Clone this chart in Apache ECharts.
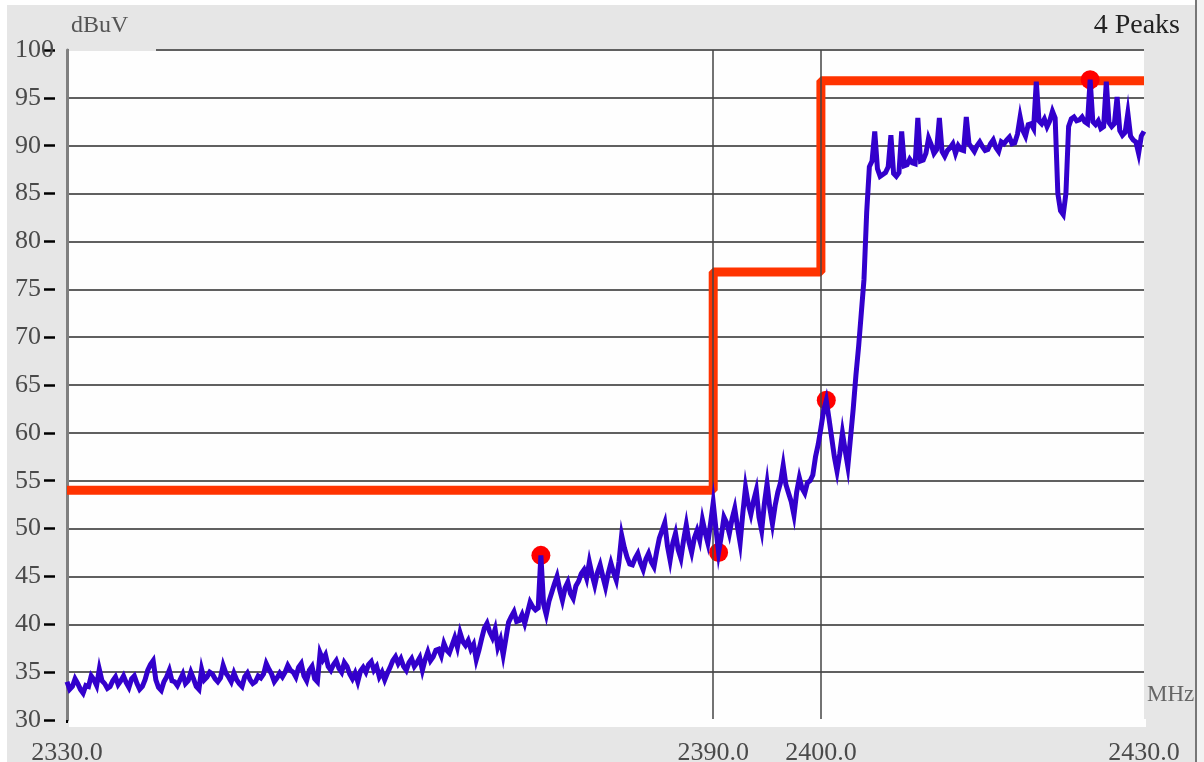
<!DOCTYPE html>
<html>
<head>
<meta charset="utf-8">
<script src="https://cdn.jsdelivr.net/npm/echarts@6/dist/echarts.min.js"></script>
<style>
html,body{margin:0;padding:0;background:#fff;}
#chart{width:1204px;height:762px;}
</style>
</head>
<body>
<div id="chart"></div>
<script>
// ---- data ----
const freqStart = 2330;      // MHz, first sample of the trace
const freqStep = 0.25;       // MHz between trace samples
const traceLevels = [
  34, 33.2, 33.5, 34.3, 33.8, 33.2, 32.8, 33.6, 33.5, 34.6,
  34.2, 33.6, 35.3, 34.1, 33.8, 33.3, 33.5, 34.1, 34.5, 33.7,
  34.1, 34.6, 33.9, 33.4, 34.3, 34.6, 33.8, 33.2, 33.5, 34.2,
  35.2, 35.8, 36.2, 34.2, 33.4, 33.1, 34, 34.5, 35.2, 34.1,
  34, 33.6, 34.2, 34.8, 33.8, 34.1, 35, 34.3, 33.5, 33.2,
  35.3, 34.2, 34.5, 35, 34.8, 34.3, 34, 34.4, 35.7, 34.9,
  34.5, 34, 34.9, 34.2, 33.8, 33.5, 34.5, 34.9, 34.2, 33.8,
  34, 34.6, 34.4, 34.8, 35.9, 35.3, 34.8, 34, 34.4, 34.9,
  34.5, 35, 35.7, 35.2, 35, 34.5, 35.5, 35.9, 34.6, 34.1,
  35.2, 35.6, 34.3, 34, 37, 36.3, 36.8, 35.6, 35.2, 35.8,
  36.2, 35.4, 35, 36, 35.6, 34.8, 34.3, 34.9, 34, 35.1,
  35.5, 35, 35.8, 36.1, 35.2, 35.6, 34.5, 35, 34.2, 34.9,
  35.5, 36.2, 36.6, 35.9, 36.4, 35.6, 35.2, 36, 36.4, 35.6,
  36, 36.5, 35.2, 36.3, 37.1, 36.2, 36.6, 37.3, 37.4, 36.7,
  38, 37.3, 37, 37.8, 38.6, 37.6, 39.1, 38.2, 37.8, 38.3,
  37.4, 37.9, 36.3, 37.3, 38.5, 39.6, 40.1, 39.2, 38.6, 39.5,
  37.6, 38.4, 36.8, 38.5, 40.2, 40.8, 41.3, 40.3, 40.4, 41,
  40.1, 41.2, 42.3, 41.8, 41.5, 41.7, 47.2, 42.1, 41, 42.4,
  43.3, 44.2, 45, 43.6, 42.5, 43.8, 44.4, 43.2, 42.7, 44,
  44.5, 45.3, 45.7, 44.8, 46.5, 45.2, 44.1, 45.4, 46.2, 45,
  43.9, 45.3, 46.4, 45.4, 44.6, 46.5, 49.3, 48, 47, 46.3,
  46.2, 46.9, 47.4, 46.4, 45.7, 46.8, 47.4, 46.5, 46, 47.6,
  49, 49.8, 50.6, 48.2, 46.7, 48.5, 49.5, 47.8, 46.9, 48.8,
  50.4, 48.6, 47.5, 49, 49.8, 48.8, 50.9, 49.6, 48.5, 50.5,
  52.7, 50, 47.5, 49.2, 51.2, 50.6, 49.5, 51, 52.1, 50.2,
  48.5, 51.6, 54.3, 52.6, 51.5, 52.9, 54, 51.2, 49.8, 52.6,
  54.7, 52.2, 50.5, 52.4, 53.8, 54.8, 56.6, 54.6, 53.7, 52.8,
  51.4, 53.8, 55.3, 54.2, 53.7, 54.8, 55, 55.6, 57.5, 58.8,
  60.5, 62.3, 63.4, 61.5, 59.5, 57.5, 56, 57.8, 60, 58.2,
  56.5, 59.5, 62.5, 66, 69, 72.5, 76, 83, 87.8, 88.4,
  91.5, 87.6, 86.8, 87, 87.2, 87.8, 91.1, 87.1, 86.8, 87.2,
  91.5, 87.9, 88, 88.6, 88.2, 88.1, 92.9, 88.4, 88.5, 89.2,
  90.8, 90.1, 89.2, 89.6, 92.9, 89.4, 88.9, 89.5, 89.8, 90.2,
  89.2, 90, 89.6, 89.5, 93, 90.2, 89.8, 89.4, 90, 90.4,
  89.9, 89.5, 89.6, 90.2, 90.6, 89.8, 89.4, 90.4, 90.2, 90.6,
  90.9, 90.2, 90.3, 91.2, 93, 91.6, 91, 92.2, 92.3, 91.8,
  96.7, 92.6, 92.3, 92.8, 92, 92.6, 93.6, 92.9, 85, 83.2,
  82.8, 85, 92, 92.8, 93, 92.6, 92.7, 93, 92.5, 92.3,
  96.9, 92.5, 92.2, 92.6, 91.8, 92, 96.7, 92.4, 92, 92.3,
  95.1, 91.6, 91.1, 91.4, 93.4, 91, 90.6, 90.4, 89.2, 91,
  91.5
];
const limitFreqs  = [2330, 2390, 2390, 2400, 2400, 2430];
const limitLevels = [54, 54, 76.8, 76.8, 96.8, 96.8];
const peakFreqs   = [2374, 2390.5, 2400.5, 2425];
const peakLevels  = [47.2, 47.5, 63.4, 96.9];
const xTickValues = [2330, 2390, 2400, 2430];
const xGridValues = [2390, 2400];
const yMin = 30, yMax = 100, yStep = 5;
const titleText = '4 Peaks';
const yUnit = 'dBuV';
const xUnit = 'MHz';

// ---- chart ----
const traceData = traceLevels.map((v, i) => [freqStart + i * freqStep, v]);
const limitData = limitFreqs.map((f, i) => [f, limitLevels[i]]);
const peakData = peakFreqs.map((f, i) => [f, peakLevels[i]]);

const FONT = 'Liberation Serif';
const BG = '#e6e6e6';
const chart = echarts.init(document.getElementById('chart'), null, {renderer: 'canvas'});

chart.setOption({
  animation: false,
  backgroundColor: BG,
  title: {
    text: titleText, right: 19, top: 7,
    textStyle: {fontFamily: FONT, fontSize: 28, fontWeight: 'normal', color: '#222'}
  },
  grid: {left: 67, right: 60, top: 50, bottom: 42, show: true,
         outerBoundsMode: 'none', containLabel: false,
         backgroundColor: '#fefefe', borderWidth: 0},
  xAxis: {
    type: 'value', min: 2330, max: 2430,
    name: xUnit, nameLocation: 'end', nameGap: 3,
    nameTextStyle: {fontFamily: FONT, fontSize: 23, color: '#666',
                    verticalAlign: 'bottom', padding: [0, 0, 14, 0]},
    axisLine: {show: false},
    axisTick: {show: true, customValues: xTickValues, length: 3,
               lineStyle: {color: '#000', width: 2}},
    axisLabel: {customValues: xTickValues, margin: 20,
                formatter: v => v.toFixed(1),
                fontFamily: FONT, fontSize: 26, color: '#4a4a4a'},
    splitLine: {show: false}
  },
  yAxis: [{
    type: 'value', min: yMin, max: yMax, interval: yStep, position: 'left', offset: 12,
    axisLine: {show: false},
    axisTick: {show: true, length: 11, lineStyle: {color: '#000', width: 2.5}},
    axisLabel: {margin: 40, align: 'left', fontFamily: FONT, fontSize: 26, color: '#4a4a4a'},
    splitLine: {show: true, lineStyle: {color: '#606060', width: 2}}
  }, {
    type: 'value', min: yMin, max: yMax, interval: yStep, position: 'left', offset: 0,
    name: yUnit, nameLocation: 'end', nameGap: 12,
    nameTextStyle: {fontFamily: FONT, fontSize: 24, color: '#555',
                    align: 'left', verticalAlign: 'bottom', padding: [0, 0, 0, 4]},
    axisLine: {show: true, lineStyle: {color: '#808080', width: 3}},
    axisTick: {show: false}, axisLabel: {show: false}, splitLine: {show: false}
  }],
  series: [{
    name: 'grid', type: 'line', data: [], z: 1, silent: true,
    markLine: {silent: true, symbol: ['none', 'none'], label: {show: false},
               lineStyle: {color: '#444', width: 1.5, type: 'solid'},
               data: xGridValues.map(v => ({xAxis: v}))}
  }, {
    name: 'limit', type: 'line', data: limitData, z: 3, symbol: 'none',
    lineStyle: {color: '#ff3300', width: 9}, itemStyle: {color: '#ff3300'}
  }, {
    name: 'peaks', type: 'scatter', data: peakData, z: 4, symbol: 'circle', symbolSize: 19,
    itemStyle: {color: '#ff0000', opacity: 1}
  }, {
    name: 'trace', type: 'line', data: traceData, z: 5, symbol: 'none',
    lineStyle: {color: '#3300cc', width: 5, join: 'miter'}, itemStyle: {color: '#3300cc'}
  }],
  graphic: [
    {type: 'rect', z: 100, shape: {x: 0, y: 0, width: 1204, height: 5}, style: {fill: '#fff'}},
    {type: 'rect', z: 100, shape: {x: 0, y: 0, width: 7, height: 762}, style: {fill: '#fff'}},
    {type: 'rect', z: 100, shape: {x: 1195, y: 0, width: 2, height: 762}, style: {fill: '#777'}},
    {type: 'rect', z: 100, shape: {x: 1197, y: 0, width: 7, height: 762}, style: {fill: '#f2f2f2'}},
    {type: 'rect', z: 100, shape: {x: 69, y: 44, width: 87, height: 7}, style: {fill: BG}},
    {type: 'rect', z: 100, shape: {x: 69, y: 719, width: 1077, height: 8}, style: {fill: '#fefefe'}}
  ]
});
</script>
</body>
</html>
